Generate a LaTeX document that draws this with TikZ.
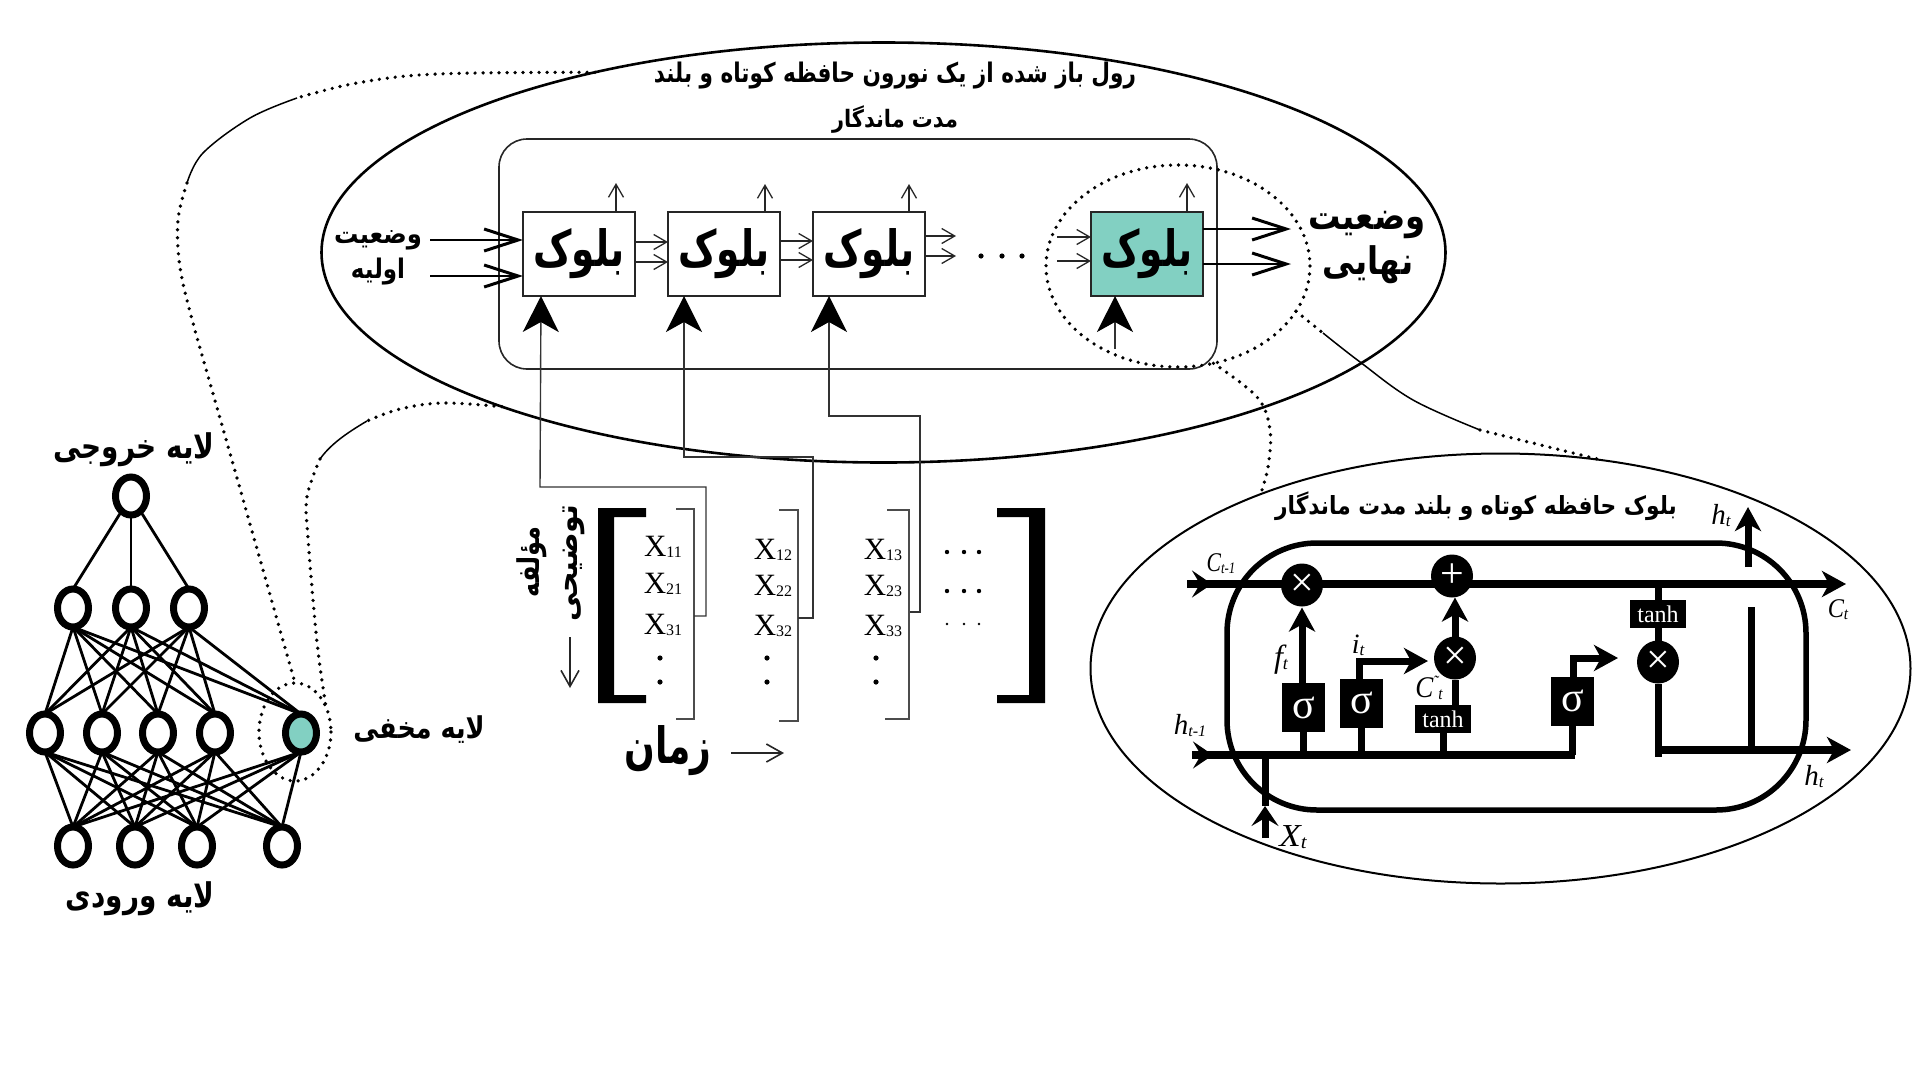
\documentclass[tikz,border=0pt]{standalone}
\usepackage{fontspec}
\usepackage{graphicx}
\usetikzlibrary{shapes.geometric,arrows.meta,calc}
\setmainfont{Liberation Serif}
\newfontfamily\arabicfont[Script=Arabic]{DejaVu Sans}
\TeXXeTstate=1
\newcommand{\fa}[3]{\scalebox{#2}[1]{\fontsize{#1}{#1}\selectfont\arabicfont\bfseries #3}}
\newcommand{\lstmlbl}[5]{\scalebox{#1}[1]{\fontsize{#2}{#2}\selectfont\itshape #4\raisebox{-2pt}{\fontsize{#3}{#3}\selectfont #5}}}
\newcommand{\xlbl}[1]{\fontsize{31}{31}\selectfont X\raisebox{-1pt}{\fontsize{16}{16}\selectfont #1}}
\definecolor{tealb}{HTML}{82D0C2}
\tikzset{
  neuron/.style={ellipse,draw=black,fill=white,line width=7pt,minimum width=31pt,minimum height=38pt,inner sep=0pt,outer sep=0pt},
  edge/.style={line width=2.8pt,black},
  dotline/.style={line width=3.7pt,line cap=round,dash pattern=on 0pt off 8pt,black},
  hairline/.style={line width=1.5pt,black},
  hoop/.style={ellipse,draw=none,inner sep=0pt,outer sep=0pt},
  blockbox/.style={rectangle,draw=black!85,line width=1.8pt,minimum width=112pt,minimum height=84pt,inner sep=0pt,outer sep=0pt,fill=white},
  smallarrow/.style={line width=1.3pt,black!85,-{Straight Barb[length=13pt,width=15pt]}},
  bigopen/.style={line width=2pt,black,-{Straight Barb[length=34pt,width=22pt,line width=3pt]}},
  feedin/.style={line width=1.4pt,black!80,-{Stealth[length=36pt,width=36pt,inset=10pt,black]}},
  thinbr/.style={line width=1.3pt,black!70},
  lstmline/.style={line width=7.5pt,black},
  lstmthin/.style={line width=7pt,black},
  head/.style={-{Stealth[length=24pt,width=26pt,inset=7pt]}},
  midhead/.style={-{Stealth[length=20pt,width=27pt,inset=8pt]}},
  sigbox/.style={rectangle,fill=black,text=white,minimum width=43pt,minimum height=49pt,inner sep=0pt,outer sep=0pt,font=\fontsize{42}{42}\selectfont},
  tanhbox/.style={rectangle,fill=black,text=white,minimum width=56pt,minimum height=28pt,inner sep=0pt,outer sep=0pt,font=\fontsize{24}{24}\selectfont},
  opnode/.style={ellipse,fill=black,text=white,minimum width=42pt,minimum height=43pt,inner sep=0pt,outer sep=0pt,font=\fontsize{42}{42}\selectfont},
  txt/.style={inner sep=0pt,outer sep=0pt,align=center},
}
\begin{document}
\begin{tikzpicture}[x=1pt,y=-1pt]
\useasboundingbox (0,0) rectangle (1920,1080);
% network
\node[neuron] (o) at (131,496) {};
\node[neuron] (a1) at (73,608) {};
\node[neuron] (a2) at (131,608) {};
\node[neuron] (a3) at (189,608) {};
\node[neuron] (b1n) at (45,733) {};
\node[neuron] (b2n) at (102,733) {};
\node[neuron] (b3n) at (158,733) {};
\node[neuron] (b4n) at (215,733) {};
\node[neuron,fill=tealb] (b5n) at (301,733) {};
\node[neuron] (c1) at (73,846) {};
\node[neuron] (c2) at (135,846) {};
\node[neuron] (c3) at (197,846) {};
\node[neuron] (c4) at (282,846) {};
\draw[edge] (o.-122) -- (a1.north);
\draw[edge] (o.south) -- (a2.north);
\draw[edge] (o.-58) -- (a3.north);
\foreach \p in {a1,a2,a3} \foreach \q in {b1n,b2n,b3n,b4n,b5n} \draw[edge] (\p.south) -- (\q.north);
\foreach \p in {b1n,b2n,b3n,b4n,b5n} \foreach \q in {c1,c2,c3,c4} \draw[edge] (\p.south) -- (\q.north);
\node[txt] (tout) at (134,450) {\fa{34}{.82}{\beginR لایه خروجی\endR}};
\node[txt] (tin) at (140,899) {\fa{34}{.82}{\beginR لایه ورودی\endR}};
\node[txt] (thid) at (419,730) {\fa{30}{.85}{\beginR لایه مخفی\endR}};
% hoops
\node[hoop,minimum width=72pt,minimum height=98pt] (hc) at (295,732) {};
\draw[dotline] (295,732) ellipse [x radius=36,y radius=49];
\node[hoop,minimum width=1124pt,minimum height=420pt,draw=black,line width=2.6pt] (big) at (883.5,252.5) {};
\node[hoop,minimum width=820pt,minimum height=430pt,draw=black,line width=2pt] (cell) at (1500.5,668.5) {};
\node[hoop,minimum width=264pt,minimum height=202pt] (d4) at (1178,266) {};
% unrolled
\node[rectangle,rounded corners=28pt,draw=black!85,line width=1.6pt,minimum width=718pt,minimum height=230pt,inner sep=0pt,outer sep=0pt] (frame) at (858,254) {};
\node[txt] (t1) at (895,76) {\fa{27}{.8}{\beginR رول باز شده از یک نورون حافظه کوتاه و بلند\endR}};
\node[txt] (t2) at (895,120) {\fa{24}{.87}{\beginR مدت ماندگار\endR}};
\node[blockbox] (b1) at (579,254) {\fa{50}{.75}{\beginR بلوک\endR}};
\node[blockbox] (b2) at (724,254) {\fa{50}{.75}{\beginR بلوک\endR}};
\node[blockbox] (b3) at (869,254) {\fa{50}{.75}{\beginR بلوک\endR}};
\node[blockbox,fill=tealb] (b4) at (1147,254) {\fa{50}{.75}{\beginR بلوک\endR}};
\coordinate (u1) at (616,183);
\coordinate (u2) at (765,184);
\coordinate (u3) at (909,184);
\coordinate (u4) at (1187,183);
\draw[smallarrow] (u1 |- b1.north) -- (u1);
\draw[smallarrow] (u2 |- b2.north) -- (u2);
\draw[smallarrow] (u3 |- b3.north) -- (u3);
\draw[smallarrow] (u4 |- b4.north) -- (u4);
\coordinate (ia) at (430,240);
\coordinate (ib) at (430,276);
\draw[bigopen] (ia) -- (ia -| b1.west);
\draw[bigopen] (ib) -- (ib -| b1.west);
\draw[smallarrow] ([yshift=12pt]b1.east) -- ([yshift=12pt]b2.west);
\draw[smallarrow] ([yshift=-8pt]b1.east) -- ([yshift=-8pt]b2.west);
\draw[smallarrow] ([yshift=13pt]b2.east) -- ([yshift=13pt]b3.west);
\draw[smallarrow] ([yshift=-6pt]b2.east) -- ([yshift=-6pt]b3.west);
\coordinate (oa) at (956,236);
\coordinate (ob) at (956,256);
\draw[smallarrow] (b3.east |- oa) -- (oa);
\draw[smallarrow] (b3.east |- ob) -- (ob);
\coordinate (ic) at (1057,237);
\coordinate (id) at (1057,261);
\draw[smallarrow] (ic) -- (ic -| b4.west);
\draw[smallarrow] (id) -- (id -| b4.west);
\coordinate (fa) at (1291,229);
\coordinate (fb) at (1291,264);
\draw[bigopen] (b4.east |- fa) -- (fa);
\draw[bigopen] (b4.east |- fb) -- (fb);
\foreach \x in {981,1002,1022} \fill (\x,256) circle [radius=2.6];
\node[txt] (w1) at (378,240) {\fa{27}{.9}{\beginR وضعیت\endR}};
\node[txt] (w2) at (378,272) {\fa{27}{.85}{\beginR اولیه\endR}};
\node[txt] (w3) at (1367,225) {\fa{38}{.85}{\beginR وضعیت\endR}};
\node[txt] (w4) at (1368,265) {\fa{38}{.85}{\beginR نهایی\endR}};
% matrix
\fill (598,508) -- (646,508) -- (646,517) -- (614,517) -- (614,695) -- (646,695) -- (646,703) -- (598,703) -- cycle;
\fill (1045,508) -- (997,508) -- (997,517) -- (1029,517) -- (1029,695) -- (997,695) -- (997,703) -- (1045,703) -- cycle;
\coordinate (g1) at (694,616);
\coordinate (g2) at (798,618);
\coordinate (g3) at (910,612);
\draw[thinbr] (676,509) -- (694,509) -- (694,719) -- (676,719);
\draw[thinbr] (779,510) -- (798,510) -- (798,721) -- (779,721);
\draw[thinbr] (887,510) -- (909,510) -- (909,719) -- (885,719);
\draw[feedin] (g1) -- (706,616) -- (706,487) -- (540,487) -- ([xshift=-38pt]b1.south);
\draw[feedin] (g2) -- (813,618) -- (813,457) -- (684,457) -- ([xshift=-40pt]b2.south);
\draw[feedin] (g3) -- (920,612) -- (920,416) -- (829,416) -- ([xshift=-40pt]b3.south);
\coordinate (s4) at (1115,349);
\draw[feedin] (s4) -- (s4 |- b4.south);
\node[txt] (x11) at (663,547) {\xlbl{11}};
\node[txt] (x21) at (663,584) {\xlbl{21}};
\node[txt] (x31) at (663,625) {\xlbl{31}};
\node[txt] (x12) at (773,550) {\xlbl{12}};
\node[txt] (x22) at (773,586) {\xlbl{22}};
\node[txt] (x32) at (773,626) {\xlbl{32}};
\node[txt] (x13) at (883,550) {\xlbl{13}};
\node[txt] (x23) at (883,586) {\xlbl{23}};
\node[txt] (x33) at (883,626) {\xlbl{33}};
\foreach \x in {660,767,876} { \fill (\x,658) circle [radius=2.6]; \fill (\x,682) circle [radius=2.6]; }
\foreach \x in {947,964,979} { \fill (\x,552) circle [radius=2.2]; \fill (\x,591) circle [radius=2.2]; \fill (\x,624) circle [radius=1.3]; }
\node[txt] (zm) at (668,751) {\fa{50}{.72}{\beginR زمان\endR}};
\coordinate (za) at (731,753);
\coordinate (zb) at (784,753);
\draw[line width=1.6pt,black!85,-{Straight Barb[length=16pt,width=18pt]}] (za) -- (zb);
\node[txt,rotate=90] (v1) at (532,562) {\fa{30}{.8}{\beginR مؤلفه\endR}};
\node[txt,rotate=90] (v2) at (574,563) {\fa{30}{.95}{\beginR توضیحی\endR}};
\coordinate (da) at (570,637);
\coordinate (db) at (570,688);
\draw[line width=1.6pt,black!85,-{Straight Barb[length=16pt,width=18pt]}] (da) -- (db);
% dotted connectors and hoops
\draw[dotline] (1178,266) ellipse [x radius=132,y radius=101];
\coordinate (k1) at (297,98);
\coordinate (k2) at (187,183);
\draw[dotline] plot[smooth,tension=.6] coordinates {(big.148.4) (437,74) (357,83) (k1)};
\draw[hairline] plot[smooth,tension=.6] coordinates {(k1) (250,118) (203,153) (k2)};
\draw[dotline] plot[smooth,tension=.6] coordinates {(k2) (178,220) (180,267) (193,323) (220,418) (hc.90)};
\coordinate (k3) at (367,421);
\coordinate (k4) at (320,459);
\draw[dotline] plot[smooth,tension=.6] coordinates {(big.202.1) (443,403) (400,409) (k3)};
\draw[hairline] (k3) .. controls (345,434) and (330,445) .. (k4);
\draw[dotline] plot[smooth,tension=.6] coordinates {(k4) (307,497) (308,538) (317,642) (hc.39)};
\draw[dotline] plot[smooth,tension=.6] coordinates {(d4.-70) (1257,397) (1270,430) (1268,467) (cell.144)};
\coordinate (m1) at (1323,333);
\coordinate (m2) at (1480,430);
\draw[dotline] (d4.-21) -- (m1);
\draw[hairline] plot[smooth,tension=.6] coordinates {(m1) (1360,362) (1413,400) (m2)};
\draw[dotline] (m2) -- (cell.64.3);
% LSTM cell
\node[rectangle,rounded corners=90pt,draw=black,line width=5.5pt,minimum width=579pt,minimum height=267pt,inner sep=0pt,outer sep=0pt] (core) at (1516.5,676.5) {};
\node[txt] (t3) at (1476,506) {\fa{25}{.87}{\beginR بلوک حافظه کوتاه و بلند مدت ماندگار\endR}};
\coordinate (cL) at (1187,584);
\coordinate (cR) at (1846,584);
\coordinate (hL) at (1192,755);
\coordinate (hM) at (1575,755);
\coordinate (hS) at (1655,750);
\coordinate (hR) at (1851,750);
\coordinate (cLh) at (1212,584);
\coordinate (hLh) at (1213,755);
\draw[lstmline,head] (cL) -- (cR);
\draw[lstmline,midhead] (cL) -- (cLh);
\draw[lstmline] (hL) -- (hM);
\draw[lstmline,midhead] (hL) -- (hLh);
\draw[lstmline,head] (hS) -- (hR);
\node[opnode] (fx) at (1302,585) {×};
\node[opnode] (pl) at (1452,576) {+};
\node[opnode] (ix) at (1455,658) {×};
\node[opnode] (ox) at (1658,662) {×};
\node[sigbox] (s1) at (1303.5,707.5) {σ};
\node[sigbox] (s2) at (1361.5,703) {σ};
\node[sigbox] (s3) at (1572.5,701) {σ};
\node[tanhbox] (th1) at (1443,719) {tanh};
\node[tanhbox] (th2) at (1658,614) {tanh};
\draw[lstmthin] (s1.south) -- (s1.south |- hL);
\draw[lstmthin] (s2.south) -- (s2.south |- hL);
\draw[lstmthin] (s3.south) -- (s3.south |- hL);
\draw[lstmthin] (th1.south) -- (th1.south |- hL);
\draw[lstmthin,head] (s1.north -| fx.south) -- ([yshift=-1pt]fx.south);
\coordinate (i1) at (1359,661);
\coordinate (i2) at (1428,661);
\coordinate (o1) at (1573,658);
\coordinate (o2) at (1618,658);
\draw[lstmthin,head] (i1 |- s2.north) -- (i1) -- (i2);
\draw[lstmthin,head] (o1 |- s3.north) -- (o1) -- (o2);
\coordinate (thx) at (1455,705);
\draw[lstmthin] (thx) -- (ix.south);
\draw[lstmthin,head] (ix.north) -- (ix.north |- pl.south);
\draw[lstmthin] (cL -| ox.north) -- (th2.north);
\draw[lstmthin] (th2.south) -- (ox.north);
\coordinate (oe) at (1658,757);
\draw[lstmthin] (ox.south) -- (oe);
\coordinate (hu) at (1751,607);
\draw[lstmthin] (hu) -- (hu |- hS);
\coordinate (ua) at (1748,567);
\coordinate (ub) at (1748,507);
\draw[lstmthin,head] (ua) -- (ub);
\coordinate (xa) at (1265,838);
\coordinate (xb) at (1265,806);
\coordinate (xc) at (1265,755);
\draw[lstmthin] (xb) -- (xc);
\draw[lstmthin,midhead] (xa) -- (xb);
\node[txt] (l1) at (1221,564) {\lstmlbl{.8}{27}{16}{C}{t-1}};
\node[txt] (l2) at (1190,726) {\lstmlbl{1}{29}{16}{h}{t-1}};
\node[txt] (l3) at (1721,516) {\lstmlbl{1}{29}{17}{h}{t}};
\node[txt] (l4) at (1838,610) {\lstmlbl{.9}{27}{17}{C}{t}};
\node[txt] (l5) at (1814,777) {\lstmlbl{1}{29}{17}{h}{t}};
\node[txt] (l6) at (1293,837) {\lstmlbl{1.1}{32}{19}{X}{t}};
\node[txt] (l7) at (1281,660) {\lstmlbl{1}{32}{18}{f}{t}};
\node[txt] (l8) at (1358,645) {\lstmlbl{1}{28}{17}{i}{t}};
\node[txt] (l9) at (1429,688) {\lstmlbl{.9}{30}{17}{C}{\raisebox{12pt}{˜}t}};
\end{tikzpicture}
\end{document}
